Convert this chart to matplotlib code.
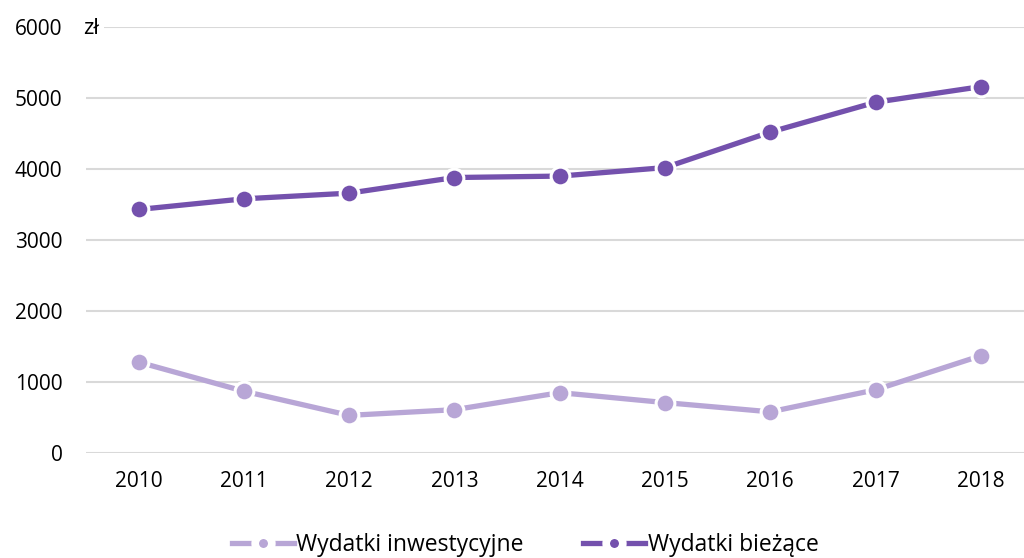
import matplotlib.pyplot as plt
import numpy as np

# data
years = ["2010", "2011", "2012", "2013", "2014", "2015", "2016", "2017", "2018"]
inwestycyjne = [1280, 870, 530, 610, 850, 710, 580, 890, 1370]
biezace = [3430, 3580, 3660, 3880, 3900, 4020, 4520, 4940, 5160]

plt.rcParams['font.family'] = ['Open Sans', 'DejaVu Sans']

fig = plt.figure(figsize=(10.24, 5.58), dpi=100)
# plot area runs past the right edge, like the original
ax = fig.add_axes([86 / 1024, 1 - 453 / 558, 947.5 / 1024, 426 / 558])

x = np.arange(len(years))
ax.plot(x, inwestycyjne, color='#b8a6d6', lw=3.8, marker='o', ms=13.5,
        mfc='#b8a6d6', mec='white', mew=2.2, label='Wydatki inwestycyjne', zorder=3)
ax.plot(x, biezace, color='#7451ad', lw=3.8, marker='o', ms=13.5,
        mfc='#7451ad', mec='white', mew=2.2, label='Wydatki bieżące', zorder=3)

ax.set_xlim(-0.5, len(years) - 0.5)
ax.set_ylim(0, 6000)
ax.set_yticks(np.arange(0, 6001, 1000))
ax.set_xticks(x)
ax.set_xticklabels(years)
ax.grid(axis='y', color='#d9d9d9', lw=1.5)
ax.set_axisbelow(True)
for s in ax.spines.values():
    s.set_visible(False)
ax.tick_params(length=0, labelsize=15, colors='black')
ax.tick_params(axis='y', pad=17)
ax.tick_params(axis='x', pad=13)

ax.text(-0.53, 5980, 'zł', fontsize=16, ha='left', va='center',
        bbox=dict(facecolor='white', edgecolor='none', pad=4))

leg = fig.legend(loc='lower center', bbox_to_anchor=(0.513, -0.035), ncol=2, frameon=False,
                 fontsize=16.5, handlelength=2.7, handletextpad=0.1, columnspacing=2.6)
for h in leg.legend_handles:
    h.set_markersize(12)
    h.set_markeredgewidth(5.5)

fig.savefig('out.png', dpi=100)
